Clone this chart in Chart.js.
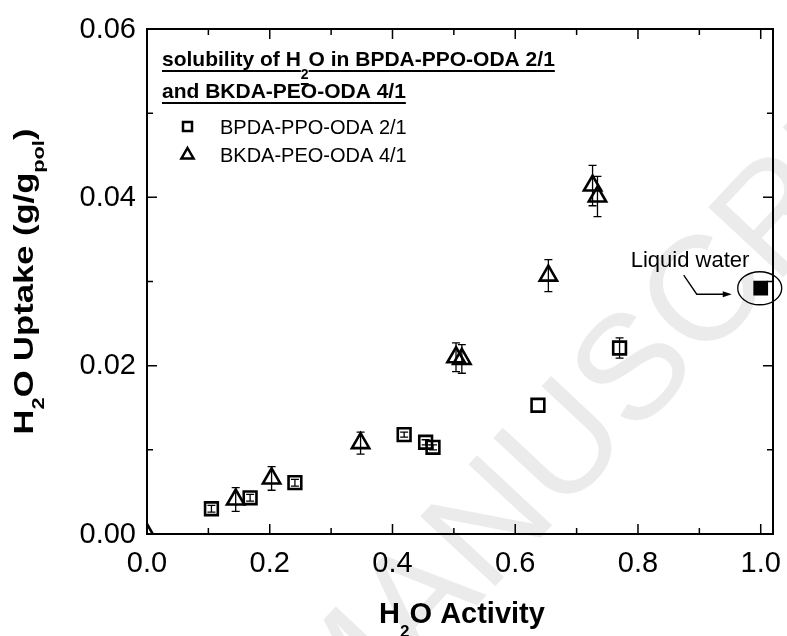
<!DOCTYPE html>
<html>
<head>
<meta charset="utf-8">
<script src="https://cdn.jsdelivr.net/npm/chart.js@4.4.0/dist/chart.umd.min.js"></script>
<style>
  html, body { margin: 0; padding: 0; background: #fff; }
  canvas { display: block; }
</style>
</head>
<body>
<canvas id="uptakeChart" width="787" height="636"></canvas>
<script>
// water sorption data (activity vs uptake, g/g polymer)
const bpdaActivity = [0.105, 0.168, 0.241, 0.419, 0.454, 0.466, 0.637, 0.770];
const bpdaUptake   = [0.0030, 0.0043, 0.0061, 0.0118, 0.0109, 0.0103, 0.0153, 0.0221];
const bpdaError    = [0.0004, 0.0004, 0.0004, 0.0003, 0.0003, 0.0003, 0.0000, 0.0012];

const bkdaActivity = [0.000, 0.1445, 0.203, 0.348, 0.5035, 0.513, 0.654, 0.726, 0.734];
const bkdaUptake   = [0.0000, 0.0041, 0.0066, 0.0108, 0.0210, 0.0208, 0.0307, 0.0414, 0.0401];
const bkdaError    = [0.0000, 0.0014, 0.0014, 0.0013, 0.0017, 0.0017, 0.0019, 0.0024, 0.0024];

const waterActivity = [1.0];
const waterUptake   = [0.0292];

const xMajorTicks = [0, 0.2, 0.4, 0.6, 0.8, 1.0];
const xMinorTicks = [0.1, 0.3, 0.5, 0.7, 0.9];
const yMajorTicks = [0, 0.02, 0.04, 0.06];
const yMinorTicks = [0.01, 0.03, 0.05];
const xTickLabels = ['0.0', '0.2', '0.4', '0.6', '0.8', '1.0'];
const yTickLabels = ['0.00', '0.02', '0.04', '0.06'];
const seriesNames = ['BPDA-PPO-ODA 2/1', 'BKDA-PEO-ODA 4/1'];

const FONT = '"Liberation Sans", Arial, Helvetica, sans-serif';
const font = (size, bold) => (bold ? 'bold ' : '') + size + 'px ' + FONT;

const toPoints = (xs, ys) => xs.map((v, i) => ({ x: v, y: ys[i] }));

// draws text runs like [['H', false], ['2', true], ['O', false]] (true = subscript)
function drawRuns(ctx, runs, x, y, o) {
    let cx = x;
    runs.forEach(([t, sub]) => {
        ctx.font = font(sub ? o.subSize : o.size, o.bold);
        const dy = sub ? o.subShift : 0;
        ctx.fillText(t, cx, y + dy);
        const w = ctx.measureText(t).width;
        if (o.underline) ctx.fillRect(cx, y + dy + o.ulOffset, w, o.ulWidth);
        cx += w;
    });
    return cx - x;
}

function runsWidth(ctx, runs, o) {
    let w = 0;
    runs.forEach(([t, sub]) => {
        ctx.font = font(sub ? o.subSize : o.size, o.bold);
        w += ctx.measureText(t).width;
    });
    return w;
}

// faint diagonal watermark behind everything
const watermark = {
    id: 'watermark',
    beforeDraw(chart) {
        const ctx = chart.ctx;
        ctx.save();
        ctx.translate(-247, 1382);
        ctx.rotate(-47 * Math.PI / 180);
        ctx.font = font(149, false);
        ctx.fillStyle = '#ebebeb';
        ctx.textBaseline = 'alphabetic';
        ctx.fillText('ACCEPTED MANUSCRIPT', 0, 0);
        ctx.restore();
    }
};

// vertical error bars with caps
const errorBars = {
    id: 'errorBars',
    beforeDatasetsDraw(chart) {
        const { ctx, scales: { x, y } } = chart;
        ctx.save();
        ctx.strokeStyle = '#000';
        ctx.lineWidth = 1.3;
        chart.data.datasets.forEach(ds => {
            if (!ds.errors) return;
            ds.data.forEach((p, i) => {
                const e = ds.errors[i];
                if (!e) return;
                const px = x.getPixelForValue(p.x);
                const top = y.getPixelForValue(p.y + e);
                const bot = y.getPixelForValue(p.y - e);
                ctx.beginPath();
                ctx.moveTo(px, top); ctx.lineTo(px, bot);
                ctx.moveTo(px - 4, top); ctx.lineTo(px + 4, top);
                ctx.moveTo(px - 4, bot); ctx.lineTo(px + 4, bot);
                ctx.stroke();
            });
        });
        ctx.restore();
    }
};

// closed frame, inward ticks on all four sides, tick labels and axis titles
const frameAxes = {
    id: 'frameAxes',
    afterDatasetsDraw(chart) {
        const { ctx, chartArea: a, scales: { x, y } } = chart;
        ctx.save();
        ctx.strokeStyle = '#000';
        ctx.fillStyle = '#000';
        ctx.lineWidth = 2;
        ctx.strokeRect(a.left, a.top, a.right - a.left, a.bottom - a.top);

        ctx.lineWidth = 1.5;
        ctx.beginPath();
        const xt = (vals, len) => vals.forEach(v => {
            const px = x.getPixelForValue(v);
            ctx.moveTo(px, a.bottom); ctx.lineTo(px, a.bottom - len);
            ctx.moveTo(px, a.top); ctx.lineTo(px, a.top + len);
        });
        const yt = (vals, len) => vals.forEach(v => {
            const py = y.getPixelForValue(v);
            ctx.moveTo(a.left, py); ctx.lineTo(a.left + len, py);
            ctx.moveTo(a.right, py); ctx.lineTo(a.right - len, py);
        });
        xt(xMajorTicks, 10); xt(xMinorTicks, 6);
        yt(yMajorTicks, 10); yt(yMinorTicks, 6);
        ctx.stroke();

        // tick labels
        ctx.font = font(29, false);
        ctx.textBaseline = 'alphabetic';
        ctx.textAlign = 'center';
        xMajorTicks.forEach((v, i) => ctx.fillText(xTickLabels[i], x.getPixelForValue(v), a.bottom + 38));
        ctx.textAlign = 'right';
        yMajorTicks.forEach((v, i) => ctx.fillText(yTickLabels[i], a.left - 11, y.getPixelForValue(v) + 8.5));

        // x title
        ctx.textAlign = 'left';
        const xRuns = [['H', false], ['2', true], ['O Activity', false]];
        const xo = { size: 29, subSize: 17, subShift: 14, bold: true };
        const xw = runsWidth(ctx, xRuns, xo);
        drawRuns(ctx, xRuns, (a.left + a.right) / 2 - xw / 2 + 2, 623, xo);

        // y title, rotated and drawn a bit wider along its reading direction
        const yRuns = [['H', false], ['2', true], ['O Uptake (g/g', false], ['pol', true], [')', false]];
        const yo = { size: 27, subSize: 17, subShift: 11, bold: true };
        const stretch = 1.28;
        const yw = runsWidth(ctx, yRuns, yo) * stretch;
        ctx.translate(33, (a.top + a.bottom) / 2);
        ctx.rotate(-Math.PI / 2);
        ctx.scale(stretch, 1);
        drawRuns(ctx, yRuns, -yw / stretch / 2, 0, yo);
        ctx.restore();
    }
};

// in-plot legend block and the liquid water callout
const legendNotes = {
    id: 'legendNotes',
    afterDraw(chart) {
        const { ctx, scales: { x, y } } = chart;
        ctx.save();
        ctx.fillStyle = '#000';
        ctx.strokeStyle = '#000';
        ctx.textAlign = 'left';
        ctx.textBaseline = 'alphabetic';

        const to = { size: 21, subSize: 14, subShift: 13, bold: true, underline: true, ulOffset: 4, ulWidth: 2 };
        drawRuns(ctx, [['solubility of H', false], ['2', true], ['O in BPDA-PPO-ODA 2/1', false]], 162, 66, to);
        drawRuns(ctx, [['and BKDA-PEO-ODA 4/1', false]], 162, 98, to);

        ctx.lineWidth = 2.5;
        ctx.strokeRect(183, 122, 9, 9);
        ctx.beginPath();
        const r = 7, cx = 187.5, cy = 155;
        ctx.moveTo(cx, cy - r);
        ctx.lineTo(cx + r * 0.866, cy + r / 2);
        ctx.lineTo(cx - r * 0.866, cy + r / 2);
        ctx.closePath();
        ctx.stroke();

        ctx.font = font(20, false);
        ctx.fillText(seriesNames[0], 220, 134);
        ctx.fillText(seriesNames[1], 220, 162);

        // callout pointing at the liquid water point
        const wx = x.getPixelForValue(waterActivity[0]);
        const wy = y.getPixelForValue(waterUptake[0]);
        ctx.font = font(22, false);
        ctx.fillText('Liquid water', wx - 130, wy - 21);

        ctx.lineWidth = 1.3;
        ctx.beginPath();
        ctx.moveTo(wx - 77, wy - 13);
        ctx.lineTo(wx - 64, wy + 6);
        ctx.lineTo(wx - 36, wy + 6);
        ctx.stroke();
        ctx.beginPath();
        ctx.moveTo(wx - 29, wy + 6);
        ctx.lineTo(wx - 38, wy + 3);
        ctx.lineTo(wx - 38, wy + 9);
        ctx.closePath();
        ctx.fill();

        ctx.beginPath();
        ctx.ellipse(wx - 1, wy, 22, 16.5, 0, 0, Math.PI * 2);
        ctx.stroke();
        ctx.restore();
    }
};

const chart = new Chart(document.getElementById('uptakeChart'), {
    type: 'scatter',
    data: {
        datasets: [
            {
                label: seriesNames[0],
                data: toPoints(bpdaActivity, bpdaUptake),
                errors: bpdaError,
                pointStyle: 'rect',
                pointRadius: 9,
                pointBorderWidth: 2.6,
                pointBorderColor: '#000',
                pointBackgroundColor: 'rgba(0,0,0,0)',
                clip: false
            },
            {
                label: seriesNames[1],
                data: toPoints(bkdaActivity, bkdaUptake),
                errors: bkdaError,
                pointStyle: 'triangle',
                pointRadius: 10,
                pointBorderWidth: 2.6,
                pointBorderColor: '#000',
                pointBackgroundColor: 'rgba(0,0,0,0)',
                clip: 0
            },
            {
                label: 'Liquid water',
                data: toPoints(waterActivity, waterUptake),
                pointStyle: 'rect',
                pointRadius: 9,
                pointBorderWidth: 2,
                pointBorderColor: '#000',
                pointBackgroundColor: '#000',
                clip: false
            }
        ]
    },
    options: {
        responsive: false,
        animation: false,
        events: [],
        layout: { padding: { left: 147, right: 14, top: 29, bottom: 102 } },
        plugins: {
            legend: { display: false },
            tooltip: { enabled: false }
        },
        scales: {
            x: { type: 'linear', min: 0, max: 1.02, display: false },
            y: { type: 'linear', min: 0, max: 0.06, display: false }
        }
    },
    plugins: [watermark, errorBars, frameAxes, legendNotes]
});
</script>
</body>
</html>
